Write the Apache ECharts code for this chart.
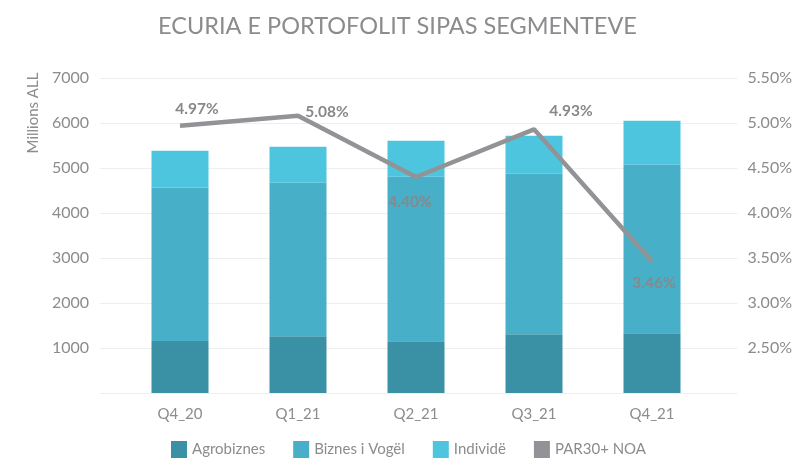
<!DOCTYPE html>
<html>
<head>
<meta charset="utf-8">
<script src="https://cdn.jsdelivr.net/npm/echarts@6/dist/echarts.min.js"></script>
<style>
  html, body { margin: 0; padding: 0; background: #fff; }
  #main { width: 795px; height: 466px; }
</style>
</head>
<body>
<div id="main"></div>
<script>
// kategorite dhe vlerat (milion ALL)
const categories = ['Q4_20', 'Q1_21', 'Q2_21', 'Q3_21', 'Q4_21']
const agrobiznes = [1158, 1263, 1151, 1307, 1330]
const biznesVogel = [3408, 3407, 3653, 3564, 3741]
const individe = [817, 802, 802, 846, 980]
const par30 = [4.97, 5.08, 4.40, 4.93, 3.46] // %
// pozicioni i etiketave te vijes
const labelOffsets = [[17, -17], [29, -4], [-6, 25], [37, -18], [2, 21]]

const gray = '#8c8c8f'
const font = 'Lato'

let chart = echarts.init(document.getElementById('main'), null, { renderer: 'canvas' })

let option = {
  animation: false,
  textStyle: { fontFamily: font },
  title: {
    text: 'ECURIA E PORTOFOLIT SIPAS SEGMENTEVE',
    left: 'center',
    top: 9,
    textStyle: { color: gray, fontSize: 23.5, fontWeight: 'normal', fontFamily: font }
  },
  legend: {
    bottom: 3,
    left: 166,
    itemWidth: 16,
    itemHeight: 17,
    itemGap: 28,
    icon: 'rect',
    textStyle: { color: gray, fontSize: 15, fontFamily: font },
    data: ['Agrobiznes', 'Biznes i Vogël', 'Individë', 'PAR30+ NOA']
  },
  graphic: [{
    type: 'text',
    x: 33,
    y: 113,
    rotation: Math.PI / 2,
    style: {
      text: 'Millions ALL',
      fill: gray,
      font: '15px ' + font,
      align: 'center',
      verticalAlign: 'middle'
    }
  }],
  grid: [
    { left: 100, right: 55, top: 78, bottom: 73 }, // rrjeta e vijave
    { left: 121, right: 84, top: 78, bottom: 73 }  // kolonat
  ],
  xAxis: [
    { type: 'value', gridIndex: 0, show: false, min: 0, max: 1 },
    {
      type: 'category',
      gridIndex: 1,
      data: categories,
      axisLine: { show: false },
      axisTick: { show: false },
      axisLabel: { color: gray, fontSize: 15, margin: 14 }
    }
  ],
  yAxis: [
    {
      type: 'value', gridIndex: 0, min: 0, max: 7000, interval: 1000,
      axisLine: { show: false }, axisTick: { show: false },
      axisLabel: { color: gray, fontSize: 16, margin: 11, formatter: v => v === 0 ? '' : v },
      splitLine: { lineStyle: { color: '#eeeeee', width: 1 } }
    },
    {
      type: 'value', gridIndex: 0, position: 'right', min: 2, max: 5.5, interval: 0.5,
      axisLine: { show: false }, axisTick: { show: false },
      axisLabel: { color: gray, fontSize: 16, margin: 10, formatter: v => v === 2 ? '' : v.toFixed(2) + '%' },
      splitLine: { show: false }
    },
    { type: 'value', gridIndex: 1, min: 0, max: 7000, show: false, splitLine: { show: false } },
    { type: 'value', gridIndex: 1, min: 2, max: 5.5, show: false, splitLine: { show: false } }
  ],
  series: [
    {
      name: 'Agrobiznes', type: 'bar', stack: 'seg', xAxisIndex: 1, yAxisIndex: 2,
      barWidth: 57, itemStyle: { color: '#3a91a5' }, data: agrobiznes
    },
    {
      name: 'Biznes i Vogël', type: 'bar', stack: 'seg', xAxisIndex: 1, yAxisIndex: 2,
      barWidth: 57, itemStyle: { color: '#48afc8' }, data: biznesVogel
    },
    {
      name: 'Individë', type: 'bar', stack: 'seg', xAxisIndex: 1, yAxisIndex: 2,
      barWidth: 57, itemStyle: { color: '#4dc5df' }, data: individe
    },
    {
      name: 'PAR30+ NOA', type: 'line', xAxisIndex: 1, yAxisIndex: 3,
      symbol: 'circle', symbolSize: 0.1, showSymbol: true,
      itemStyle: { color: '#929396' },
      lineStyle: { color: '#929396', width: 4.5 },
      z: 5,
      data: par30.map((v, i) => ({
        value: v,
        label: {
          show: true,
          position: 'inside',
          offset: labelOffsets[i],
          formatter: v.toFixed(2) + '%',
          color: '#88888b',
          fontSize: 15.5,
          fontWeight: 'bold'
        }
      }))
    }
  ]
}

chart.setOption(option)
</script>
</body>
</html>
